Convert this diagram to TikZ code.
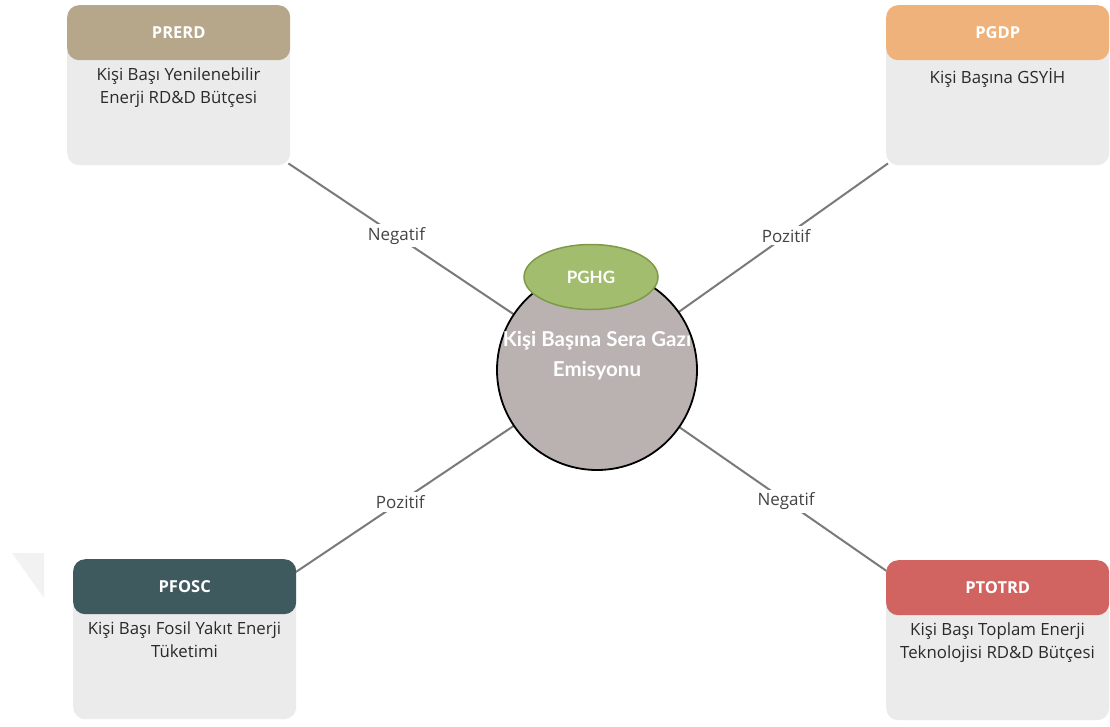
\documentclass[tikz,border=0pt]{standalone}
\usepackage{fontspec}
\setmainfont{Open Sans}
\newfontfamily\lato{Lato}
\usetikzlibrary{shapes.geometric,backgrounds}
\definecolor{bodygray}{HTML}{EBEBEB}
\definecolor{linegray}{HTML}{7A7A7A}
\definecolor{txtdark}{HTML}{2A2A2A}
\definecolor{lbltxt}{HTML}{444444}
\definecolor{hdrtan}{HTML}{B6A68A}
\definecolor{hdrorange}{HTML}{EFB27A}
\definecolor{hdrteal}{HTML}{3F5A5E}
\definecolor{hdrred}{HTML}{D16360}
\definecolor{circfill}{HTML}{BAB1B1}
\definecolor{ellfill}{HTML}{A3BD6F}
\definecolor{elldraw}{HTML}{7D9A48}
\definecolor{wmark}{HTML}{F2F2F2}
\tikzset{
  bodybox/.style={fill=bodygray, rounded corners=12pt, minimum width=223pt, minimum height=160pt, inner sep=0pt, anchor=north west},
  hdrbox/.style={rounded corners=12pt, minimum width=223pt, minimum height=55pt, inner sep=0pt, anchor=north west, text=white, font=\fontsize{16.5}{18}\selectfont\bfseries},
  bodytext/.style={align=center, text=txtdark, font=\fontsize{16.8}{22.5}\selectfont, anchor=north, inner sep=0pt},
  link/.style={draw=linegray, line width=2pt},
  lbl/.style={fill=white, text=lbltxt, font=\fontsize{17}{19}\selectfont, inner sep=3pt}
}
\begin{document}
\begin{tikzpicture}[x=1pt,y=-1pt]
\useasboundingbox (0,0) rectangle (1110,726);
% faint watermark triangle
\fill[wmark] (12,553) -- (44,553) -- (44,598) -- cycle;
% boxes
\node[bodybox] (b1) at (67,5) {};
\node[hdrbox, fill=hdrtan] (h1) at (67,5) {PRERD};
\node[bodytext] (t1) at (178.5,68) {Kişi Başı Yenilenebilir\\Enerji RD\&D Bütçesi};

\node[bodybox] (b2) at (886,5) {};
\node[hdrbox, fill=hdrorange] (h2) at (886,5) {PGDP};
\node[bodytext] (t2) at (997.5,68) {Kişi Başına GSYİH};

\node[bodybox] (b3) at (73,559) {};
\node[hdrbox, fill=hdrteal] (h3) at (73,559) {PFOSC};
\node[bodytext] (t3) at (184.5,622) {Kişi Başı Fosil Yakıt Enerji\\Tüketimi};

\node[bodybox] (b4) at (886,560) {};
\node[hdrbox, fill=hdrred] (h4) at (886,560) {PTOTRD};
\node[bodytext] (t4) at (997.5,623) {Kişi Başı Toplam Enerji\\Teknolojisi RD\&D Bütçesi};

% centre
\node[circle, draw=black, line width=1.8pt, fill=circfill, minimum size=200pt, inner sep=0pt] (c) at (597,370) {};
\node[text=white, align=center, font=\lato\fontsize{20.5}{30}\selectfont\bfseries] (ct) at (597,356) {Kişi Başına Sera Gazı\\Emisyonu};
\node[ellipse, draw=elldraw, line width=1.5pt, fill=ellfill, minimum width=134pt, minimum height=65pt, inner sep=0pt, text=white, font=\lato\fontsize{17}{18}\selectfont\bfseries] (e) at (591,277) {PGHG};

% connectors
\begin{scope}[on background layer]
\draw[link] (b1.south east) ++(-2,-2) coordinate (p1) -- (c.center) node[lbl, pos=0.35] {Negatif};
\draw[link] (b2.south west) ++(2,-2) coordinate (p2) -- (c.center) node[lbl, pos=0.35] {Pozitif};
\draw[link] (b3.north east) ++(-2,14) coordinate (p3) -- (c.center) node[lbl, pos=0.35] {Pozitif};
\draw[link] (b4.north west) ++(2,12) coordinate (p4) -- (c.center) node[lbl, pos=0.35] {Negatif};
\end{scope}
\end{tikzpicture}
\end{document}
